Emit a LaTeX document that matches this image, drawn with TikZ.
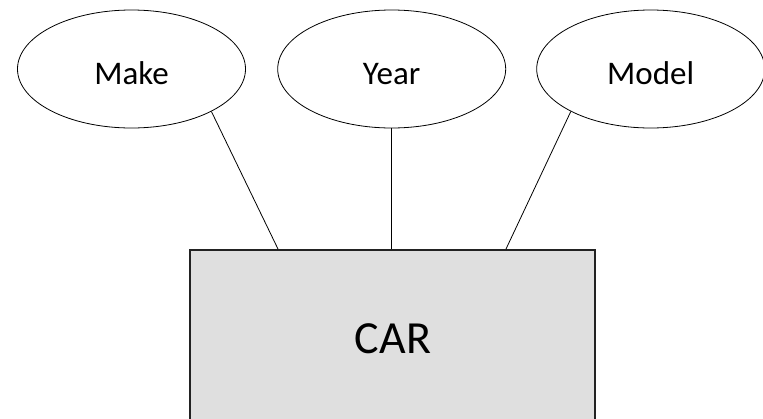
\documentclass[tikz,border=0pt]{standalone}
\usepackage{fontspec}
\setmainfont{Carlito}
\usetikzlibrary{shapes.geometric}
\definecolor{entityfill}{HTML}{DFDFDF}
\definecolor{entityedge}{HTML}{222222}
\tikzset{
  attr/.style={ellipse, draw=black, line width=0.8pt, fill=white,
    minimum width=228pt, minimum height=118pt, inner sep=0pt},
  attrtext/.style={anchor=base, inner sep=0pt, font=\fontsize{33}{40}\selectfont},
  entity/.style={rectangle, draw=entityedge, line width=2pt, fill=entityfill,
    minimum width=405pt, minimum height=220pt, inner sep=0pt},
  entitytext/.style={anchor=base, inner sep=0pt, font=\fontsize{46}{55}\selectfont},
  link/.style={draw=black, line width=0.8pt}
}
\begin{document}
\begin{tikzpicture}[x=1pt, y=-1pt]
  \useasboundingbox (0,0) rectangle (763,418);
  \clip (0,0) rectangle (763,418);

  % entity
  \node[entity] (car) at (392,360) {};
  \node[entitytext] (carT) at (393,353) {CAR};

  % attributes
  \node[attr] (make)  at (131.5,69) {};
  \node[attr] (year)  at (391.7,69) {};
  \node[attr] (model) at (650.7,69) {};
  \node[attrtext] (makeT)  at (131.5,84) {Make};
  \node[attrtext] (yearT)  at (391.7,84) {Year};
  \node[attrtext] (modelT) at (650.7,84) {Model};

  % attribute links
  \draw[link] (make.-28) -- ([xshift=-114pt]car.north);
  \draw[link] (year.south) -- (car.north -| year.south);
  \draw[link] (model.-152) -- ([xshift=114pt]car.north);
\end{tikzpicture}
\end{document}
